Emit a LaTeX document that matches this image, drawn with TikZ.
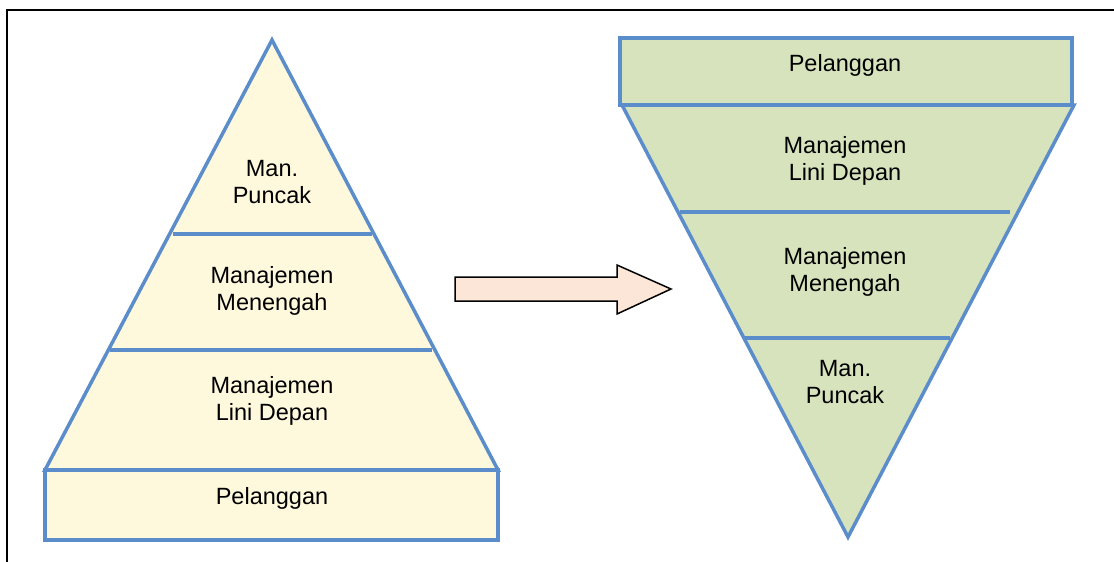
\documentclass[tikz,border=0pt]{standalone}
\usepackage{fontspec}
\setmainfont{Liberation Sans}
\usepackage{tikz}
\definecolor{lineblue}{HTML}{5B8DCB}
\definecolor{creamfill}{HTML}{FEF8DC}
\definecolor{olivefill}{HTML}{D7E3BC}
\definecolor{peachfill}{HTML}{FCE6D8}
\tikzset{lbl/.style={align=center, font=\fontsize{23.5}{27}\selectfont, inner sep=0}}

\begin{document}
\begin{tikzpicture}[x=1pt,y=-1pt]
\useasboundingbox (0,0) rectangle (1114,562);
\draw[black, line width=2] (7,562) -- (7,10) -- (1114,10);

% piramida biasa
\filldraw[fill=creamfill, draw=lineblue, line width=3.5, line join=miter] (272,40) -- (45,470) -- (498,470) -- cycle;
\filldraw[fill=creamfill, draw=lineblue, line width=3.5] (45,470) rectangle (498,540);
\draw[lineblue, line width=3.5] (173,234) -- (372,234);
\draw[lineblue, line width=3.5] (110,350) -- (432,350);
\node[lbl] (lpuncak) at (272,182) {Man.\\Puncak};
\node[lbl] (lmenengah) at (272,291) {Manajemen\\Menengah};
\node[lbl] (llini) at (272,401) {Manajemen\\Lini Depan};
\node[lbl] (lpel) at (272,498) {Pelanggan};

% panah
\filldraw[fill=peachfill, draw=black, line width=1.5, line join=miter] (455,277) -- (617,277) -- (617,265) -- (671,289) -- (617,314) -- (617,301) -- (455,301) -- cycle;

% piramida terbalik
\filldraw[fill=olivefill, draw=lineblue, line width=3.5, line join=miter] (622,105) -- (1074,105) -- (848,537) -- cycle;
\filldraw[fill=olivefill, draw=lineblue, line width=3.5] (620,38) rectangle (1072,105);
\draw[lineblue, line width=3.5] (680,212) -- (1010,212);
\draw[lineblue, line width=3.5] (745,338) -- (950,338);
\node[lbl] (rpel) at (845,65) {Pelanggan};
\node[lbl] (rlini) at (845,161) {Manajemen\\Lini Depan};
\node[lbl] (rmenengah) at (845,272) {Manajemen\\Menengah};
\node[lbl] (rpuncak) at (845,382) {Man.\\Puncak};
\end{tikzpicture}
\end{document}
